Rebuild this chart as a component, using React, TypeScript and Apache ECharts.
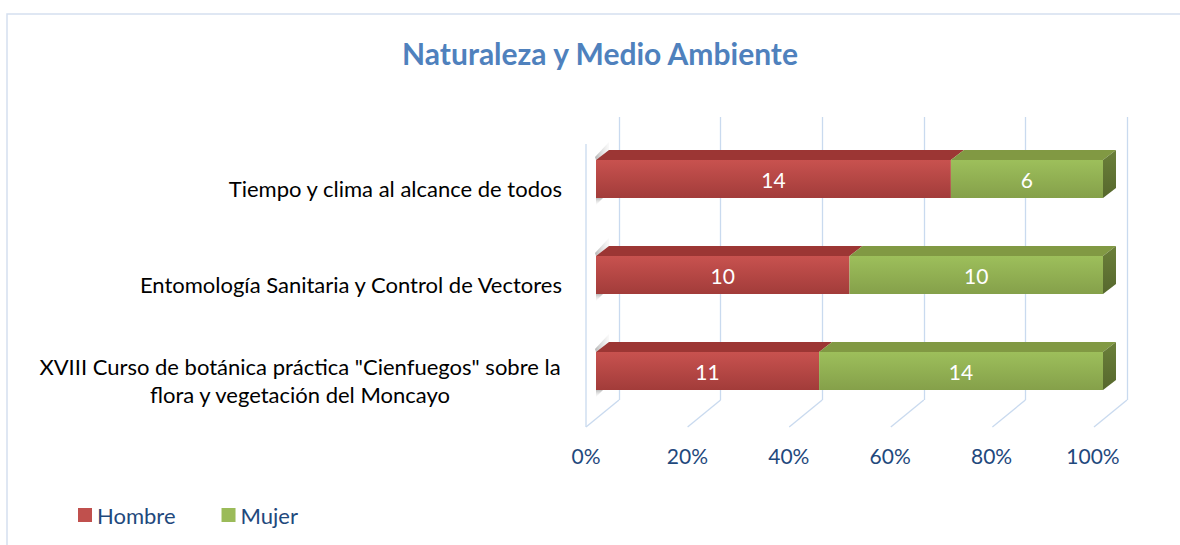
import React, { useEffect, useRef } from "react";
import * as echarts from "echarts";

const categories = [
  'XVIII Curso de botánica práctica "Cienfuegos" sobre la\nflora y vegetación del Moncayo',
  "Entomología Sanitaria y Control de Vectores",
  "Tiempo y clima al alcance de todos",
];
const hombre = [11, 10, 14];
const mujer = [14, 10, 6];
const percentTicks = [0, 20, 40, 60, 80, 100];

const FONT = "Lato";
const DX = 13;
const DY = 10;
const FLOOR_DX = 33;
const FLOOR_DY = 27;

export default function App() {
  const ref = useRef<HTMLDivElement>(null);

  useEffect(() => {
    if (!ref.current) return;
    const chart = echarts.init(ref.current, null, { renderer: "svg" });

    const totals = hombre.map((h, i) => h + mujer[i]);
    const hData = hombre.map((h, i) => [0, (h / totals[i]) * 100, i, h, 0]);
    const mData = mujer.map((m, i) => [(hombre[i] / totals[i]) * 100, 100, i, m, 1]);

    const palettes = [
      { front: ["#C8524F", "#A23C3A"], top: "#9C3634", side: ["#7E2B2A", "#6C2322"] },
      { front: ["#9DBF5B", "#85A04A"], top: "#819943", side: ["#6B803A", "#56682D"] },
    ];

    const renderBar = (params: any, api: any) => {
      const start = api.value(0);
      const end = api.value(1);
      const cat = api.value(2);
      const count = api.value(3);
      const si = api.value(4);
      const p0 = api.coord([start, cat]);
      const p1 = api.coord([end, cat]);
      const h = api.size([0, 1])[1] * 0.396;
      const x0 = p0[0];
      const x1 = p1[0];
      const yT = p0[1] - h / 2;
      const yB = p0[1] + h / 2;
      const pal = palettes[si];
      const children: any[] = [];
      if (si === 0) {
        children.push({
          type: "polygon",
          shape: { points: [[x0 - 1, yT - 3], [x0 + DX, yT - DY - 8], [x0 + DX, yT - DY], [x0, yT]] },
          style: {
            fill: new echarts.graphic.LinearGradient(0, 0, 1, 0, [
              { offset: 0, color: "rgba(120,120,120,0.55)" },
              { offset: 1, color: "rgba(200,200,200,0.1)" },
            ]),
          },
          silent: true,
        });
        children.push({
          type: "polygon",
          shape: { points: [[x0, yB], [x0 + 7, yB], [x0, yB + 7]] },
          style: {
            fill: new echarts.graphic.LinearGradient(0, 0, 0, 1, [
              { offset: 0, color: "rgba(120,120,120,0.5)" },
              { offset: 1, color: "rgba(200,200,200,0.05)" },
            ]),
          },
          silent: true,
        });
      }
      children.push({
        type: "polygon",
        shape: { points: [[x0, yT], [x1, yT], [x1 + DX, yT - DY], [x0 + DX, yT - DY]] },
        style: { fill: pal.top },
      });
      children.push({
        type: "rect",
        shape: { x: x0, y: yT, width: x1 - x0, height: h },
        style: {
          fill: new echarts.graphic.LinearGradient(0, 0, 0, 1, [
            { offset: 0, color: pal.front[0] },
            { offset: 1, color: pal.front[1] },
          ]),
        },
      });
      if (si === 1) {
        children.push({
          type: "polygon",
          shape: { points: [[x1, yT], [x1 + DX, yT - DY], [x1 + DX, yB - DY], [x1, yB]] },
          style: {
            fill: new echarts.graphic.LinearGradient(0, 0, 0, 1, [
              { offset: 0, color: pal.side[0] },
              { offset: 1, color: pal.side[1] },
            ]),
          },
        });
      }
      children.push({
        type: "text",
        style: {
          text: String(count),
          x: (x0 + x1) / 2,
          y: (yT + yB) / 2,
          align: "center",
          verticalAlign: "middle",
          fill: "#FFFFFF",
          font: `21px ${FONT}`,
        },
        silent: true,
      });
      return { type: "group", children };
    };

    const renderFloor = (params: any, api: any) => {
      const v = api.value(0);
      const pb = api.coord([v, 0]);
      const pt = api.coord([v, 1]);
      const lineStyle = { stroke: "#C9DAEF", lineWidth: 1.3 };
      const children: any[] = [
        {
          type: "line",
          shape: { x1: pb[0], y1: pb[1], x2: pb[0] - FLOOR_DX, y2: pb[1] + FLOOR_DY },
          style: lineStyle,
        },
      ];
      if (v === 0) {
        children.push({
          type: "line",
          shape: { x1: pt[0] - FLOOR_DX, y1: pt[1] + FLOOR_DY, x2: pb[0] - FLOOR_DX, y2: pb[1] + FLOOR_DY },
          style: lineStyle,
        });
      }
      return { type: "group", children, silent: true };
    };

    const option: any = {
      animation: false,
      backgroundColor: "#FFFFFF",
      title: {
        text: "Naturaleza y Medio Ambiente",
        left: 595,
        top: 33,
        textAlign: "center",
        textStyle: { fontFamily: FONT, fontWeight: "bold", fontSize: 30, color: "#4F81BD" },
      },
      legend: {
        left: 73,
        top: 499,
        itemWidth: 14,
        itemHeight: 14,
        itemGap: 46,
        icon: "rect",
        data: ["Hombre", "Mujer"],
        textStyle: { fontFamily: FONT, fontSize: 22, color: "#1F497D" },
      },
      graphic: [
        {
          type: "rect",
          shape: { x: 7, y: 14, width: 1300, height: 700 },
          style: { fill: "none", stroke: "#D5E0EF", lineWidth: 1.5 },
          silent: true,
          z: -10,
        },
      ],
      grid: [
        { left: 619, top: 117, width: 508, height: 283 },
        { left: 596, top: 131, width: 507, height: 288 },
        { left: 586, top: 140, width: 507, height: 288 },
      ],
      xAxis: [
        {
          gridIndex: 0,
          type: "value",
          min: 0,
          max: 100,
          interval: 20,
          axisLabel: { show: false },
          axisLine: { show: false },
          axisTick: { show: false },
          splitLine: { show: true, lineStyle: { color: "#C9DAEF", width: 1.3 } },
        },
        {
          gridIndex: 1,
          type: "value",
          min: 0,
          max: 100,
          show: false,
        },
        {
          gridIndex: 2,
          type: "value",
          min: 0,
          max: 100,
          interval: 20,
          axisLabel: {
            formatter: "{value}%",
            margin: 17,
            fontFamily: FONT,
            fontSize: 21,
            color: "#1F497D",
          },
          axisLine: { show: false },
          axisTick: { show: false },
          splitLine: { show: false },
        },
      ],
      yAxis: [
        { gridIndex: 0, type: "value", min: 0, max: 1, show: false },
        { gridIndex: 1, type: "category", data: categories, show: false },
        {
          gridIndex: 2,
          type: "category",
          data: categories,
          axisLine: { show: false },
          axisTick: { show: false },
          axisLabel: {
            margin: 24,
            color: "#000000",
            fontFamily: FONT,
            fontSize: 22,
            lineHeight: 28,
            formatter: (v: string) =>
              v.indexOf("\n") >= 0
                ? v.split("\n").map((l) => `{c|${l}}`).join("\n")
                : `{r|${v}}`,
            rich: {
              c: { width: 524, align: "center", fontFamily: FONT, fontSize: 22, lineHeight: 28, color: "#000000" },
              r: { fontFamily: FONT, fontSize: 22, color: "#000000" },
            },
          },
        },
      ],
      series: [
        {
          type: "custom",
          name: "floor",
          xAxisIndex: 0,
          yAxisIndex: 0,
          data: percentTicks.map((v) => [v]),
          renderItem: renderFloor,
          z: 1,
          silent: true,
        },
        {
          type: "custom",
          name: "Hombre",
          xAxisIndex: 1,
          yAxisIndex: 1,
          data: hData,
          encode: { x: [0, 1], y: 2 },
          itemStyle: { color: "#C0504D" },
          renderItem: renderBar,
          z: 3,
        },
        {
          type: "custom",
          name: "Mujer",
          xAxisIndex: 1,
          yAxisIndex: 1,
          data: mData,
          encode: { x: [0, 1], y: 2 },
          itemStyle: { color: "#9BBB59" },
          renderItem: renderBar,
          z: 4,
        },
      ],
    };

    chart.setOption(option);
    return () => chart.dispose();
  }, []);

  return (
    <div
      ref={ref}
      style={{ position: "fixed", left: 0, top: 0, width: 1180, height: 545, background: "#fff" }}
    />
  );
}
